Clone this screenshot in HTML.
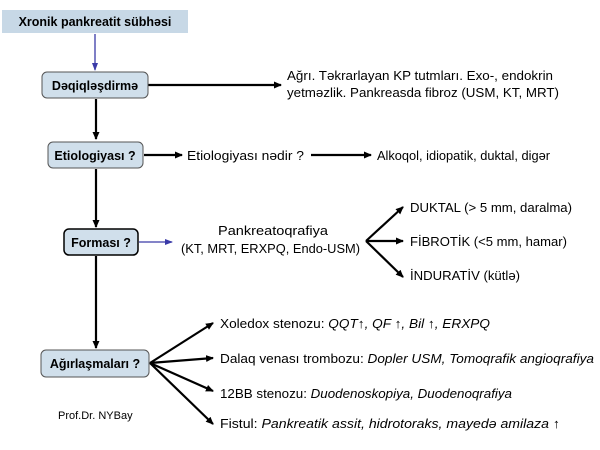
<!DOCTYPE html>
<html><head><meta charset="utf-8"><style>
html,body{margin:0;padding:0;background:#fff;}
svg{display:block;font-family:"Liberation Sans",sans-serif;}
.t{font-size:13px;fill:#000;}
.b{font-size:12.5px;font-weight:bold;fill:#000;}
</style></head><body>
<svg width="600" height="450" viewBox="0 0 600 450" xmlns="http://www.w3.org/2000/svg">
<defs>
<marker id="a" markerWidth="8" markerHeight="8" refX="7" refY="4" orient="auto" markerUnits="userSpaceOnUse"><path d="M0,0.5 L8,4 L0,7.5 Z" fill="#000"/></marker>
<marker id="ab" markerWidth="8" markerHeight="8" refX="7" refY="4" orient="auto" markerUnits="userSpaceOnUse"><path d="M0,1 L8,4 L0,7 Z" fill="#3a3aa8"/></marker>
</defs>
<rect x="2" y="10" width="186" height="23" fill="#c7d8e6"/>
<text class="b" x="95" y="26" text-anchor="middle">Xronik pankreatit sübhəsi</text>
<line x1="95" y1="34" x2="95" y2="70" stroke="#3a3aa8" stroke-width="1.3" marker-end="url(#ab)"/>

<g stroke="#000" stroke-width="2.2" fill="none">
<line x1="96" y1="99" x2="96" y2="139" marker-end="url(#a)"/>
<line x1="96" y1="169" x2="96" y2="227" marker-end="url(#a)"/>
<line x1="96" y1="256" x2="96" y2="348" marker-end="url(#a)"/>
<line x1="148" y1="85" x2="281" y2="85" marker-end="url(#a)"/>
<line x1="144" y1="155" x2="182" y2="155" marker-end="url(#a)"/>
<line x1="311" y1="155" x2="371" y2="155" marker-end="url(#a)"/>
<line x1="366" y1="241" x2="403" y2="207" marker-end="url(#a)"/>
<line x1="366" y1="241" x2="403" y2="241" marker-end="url(#a)"/>
<line x1="366" y1="241" x2="403" y2="277" marker-end="url(#a)"/>
<line x1="150" y1="363" x2="213" y2="323" marker-end="url(#a)"/>
<line x1="150" y1="363" x2="213" y2="358" marker-end="url(#a)"/>
<line x1="150" y1="363" x2="213" y2="391" marker-end="url(#a)"/>
<line x1="150" y1="363" x2="213" y2="424" marker-end="url(#a)"/>
</g>
<line x1="139" y1="242" x2="172" y2="242" stroke="#3a3aa8" stroke-width="1.3" marker-end="url(#ab)"/>

<g fill="#d0dfeb" stroke="#555" stroke-width="1">
<rect x="42" y="72" width="106" height="26" rx="5"/>
<rect x="48" y="142" width="95" height="26" rx="5"/>
<rect x="64" y="229" width="74" height="26" rx="5" stroke="#000" stroke-width="1.5"/>
<rect x="41" y="350" width="108" height="27" rx="5"/>
</g>
<text class="b" x="95" y="90" text-anchor="middle">Dəqiqləşdirmə</text>
<text class="b" x="95" y="160" text-anchor="middle">Etiologiyası ?</text>
<text class="b" x="101" y="247" text-anchor="middle">Forması ?</text>
<text class="b" x="95" y="368" text-anchor="middle">Ağırlaşmaları ?</text>

<text class="t" x="287" y="80" textLength="266" lengthAdjust="spacingAndGlyphs">Ağrı. Təkrarlayan KP tutmları. Exo-, endokrin</text>
<text class="t" x="287" y="97" textLength="272" lengthAdjust="spacingAndGlyphs">yetməzlik. Pankreasda fibroz (USM, KT, MRT)</text>
<text class="t" x="187" y="160" textLength="117" lengthAdjust="spacingAndGlyphs">Etiologiyası nədir ?</text>
<text class="t" x="377" y="160" textLength="173" lengthAdjust="spacingAndGlyphs">Alkoqol, idiopatik, duktal, digər</text>
<text class="t" x="218" y="235" textLength="110" lengthAdjust="spacingAndGlyphs">Pankreatoqrafiya</text>
<text class="t" x="181" y="253" textLength="179" lengthAdjust="spacingAndGlyphs">(KT, MRT, ERXPQ, Endo-USM)</text>
<text class="t" x="410" y="212" textLength="162" lengthAdjust="spacingAndGlyphs">DUKTAL (&gt; 5 mm, daralma)</text>
<text class="t" x="410" y="246" textLength="157" lengthAdjust="spacingAndGlyphs">FİBROTİK (&lt;5 mm, hamar)</text>
<text class="t" x="410" y="280" textLength="110" lengthAdjust="spacingAndGlyphs">İNDURATİV (kütlə)</text>
<text class="t" x="220" y="328" textLength="270" lengthAdjust="spacingAndGlyphs">Xoledox stenozu: <tspan font-style="italic">QQT↑, QF ↑, Bil ↑, ERXPQ</tspan></text>
<text class="t" x="220" y="363" textLength="374" lengthAdjust="spacingAndGlyphs">Dalaq venası trombozu: <tspan font-style="italic">Dopler USM, Tomoqrafik angioqrafiya</tspan></text>
<text class="t" x="220" y="398" textLength="292" lengthAdjust="spacingAndGlyphs">12BB stenozu: <tspan font-style="italic">Duodenoskopiya,  Duodenoqrafiya</tspan></text>
<text class="t" x="220" y="428" textLength="340" lengthAdjust="spacingAndGlyphs">Fistul: <tspan font-style="italic">Pankreatik assit, hidrotoraks, mayedə  amilaza ↑</tspan></text>
<text x="58" y="419" font-size="11" fill="#000">Prof.Dr. NYBay</text>
</svg>
</body></html>
